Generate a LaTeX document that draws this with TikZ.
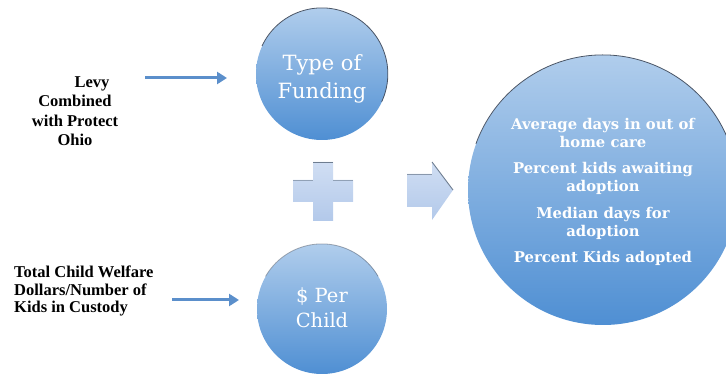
\documentclass[tikz,border=0pt]{standalone}
\usepackage{fontspec}
\setmainfont{Liberation Serif}
\newfontfamily\circfont{DejaVu Serif}
\usetikzlibrary{arrows.meta}
\definecolor{circtop}{HTML}{B0CDEC}
\definecolor{circbot}{HTML}{4F8FD3}
\definecolor{rimcol}{HTML}{4A5566}
\definecolor{arrowblue}{HTML}{5B8FCB}
\definecolor{paletop}{HTML}{D0DEF3}
\definecolor{palebot}{HTML}{B3C9EA}
\definecolor{paleedge}{HTML}{6E7D90}
\begin{document}
\begin{tikzpicture}[x=1pt,y=1pt,
  bubble/.style={circle, inner sep=0pt, top color=circtop, bottom color=circbot, draw=none},
  bubbletext/.style={text=white, align=center, inner sep=0pt},
  conn/.style={draw=arrowblue, line width=3pt, -{Triangle[length=10pt,width=12pt]}},
  lefttext/.style={text=black, inner sep=0pt},
  rim/.style={draw=rimcol, line width=0.8pt},
  pale/.style={top color=paletop, bottom color=palebot},
  paleline/.style={draw=paleedge, line width=0.9pt}
]
\useasboundingbox (0,0) rectangle (726,375);
% circles
\node[bubble, minimum size=132pt] (tf) at (322,301) {};
\node[bubbletext, font=\circfont\fontsize{21}{28}\selectfont] (tft) at ([yshift=-5pt]tf.center) {Type of\\Funding};
\draw[rim] (tf.155) arc[start angle=155, end angle=-25, radius=66pt];
\node[bubble, minimum size=130pt] (pc) at (322,66) {};
\node[bubbletext, font=\circfont\fontsize{19.5}{25}\selectfont] (pct) at ([yshift=1pt]pc.center) {\$ Per\\Child};
\draw[rim, draw opacity=0.5] (pc.150) arc[start angle=150, end angle=30, radius=65pt];
\node[bubble, minimum size=270pt] (res) at (603,185) {};
\node[bubbletext, font=\circfont\bfseries\fontsize{14.8}{18}\selectfont] (rest) at ([yshift=-2pt]res.center)
  {Average days in out of\\home care\\[8.5pt]Percent kids awaiting\\adoption\\[8.5pt]Median days for\\adoption\\[8.5pt]Percent Kids adopted};
\draw[rim] (res.160) arc[start angle=160, end angle=-20, radius=135pt];
% plus sign
\path[pale] (313,213) -- (333,213) -- (333,195) -- (353,195) -- (353,173) -- (333,173) -- (333,154)
  -- (313,154) -- (313,173) -- (293,173) -- (293,195) -- (313,195) -- cycle;
\draw[paleline] (313,213) -- (333,213);
\draw[paleline, draw opacity=0.6] (293,195) -- (313,195) (333,195) -- (353,195);
% block arrow
\path[pale] (407,201) -- (432,201) -- (432,213) -- (453,185) -- (432,155) -- (432,168) -- (407,168) -- cycle;
\draw[paleline, draw opacity=0.7] (407,201) -- (432,201);
\draw[paleline] (432,213) -- (453,185);
% left texts
\node[lefttext, align=center, font=\fontsize{16.5}{19.5}\selectfont\bfseries] (levy) at (75,264)
  {\hspace*{34pt}Levy\\Combined\\with Protect\\Ohio};
\node[lefttext, align=left, anchor=west, font=\fontsize{16.5}{17.5}\selectfont\bfseries] (tot) at (14,84)
  {Total Child Welfare\\Dollars/Number of\\Kids in Custody};
% arrows
\coordinate (a1s) at (145,297);
\coordinate (a1e) at (227,297);
\coordinate (a2s) at (172,75);
\coordinate (a2e) at (239,75);
\draw[conn] (a1s) -- (a1e);
\draw[conn] (a2s) -- (a2e);
\end{tikzpicture}
\end{document}
